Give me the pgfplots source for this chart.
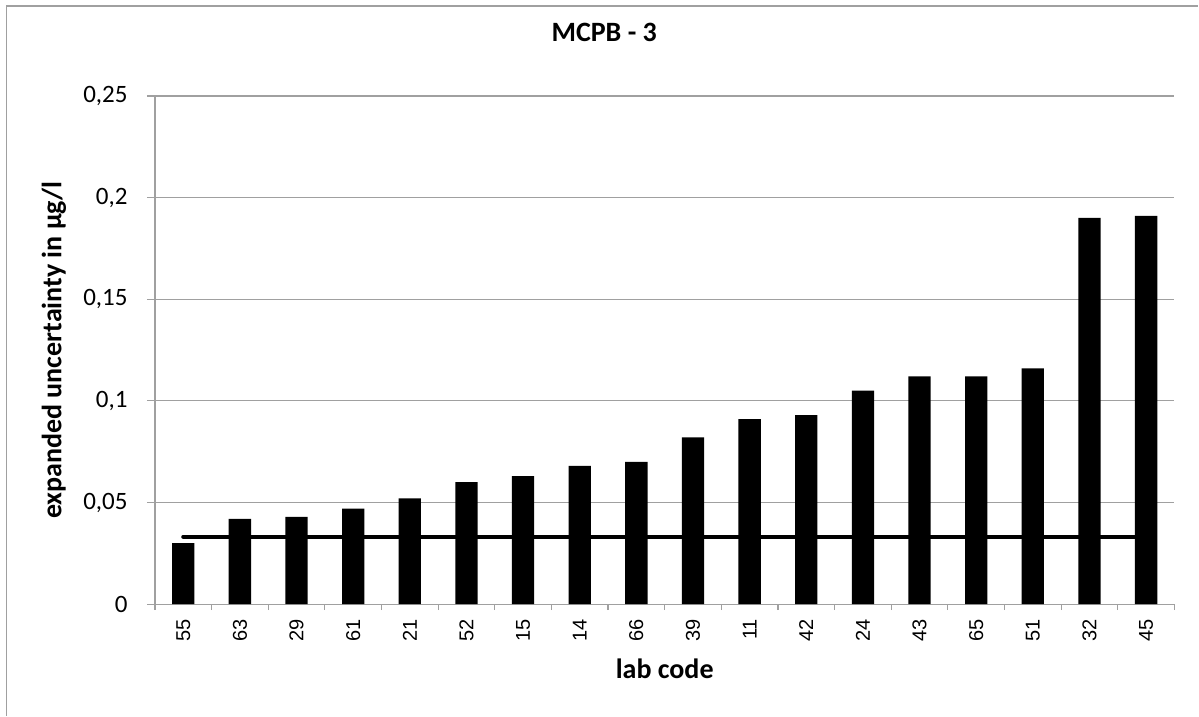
\documentclass[border=0pt]{standalone}
\usepackage{fontspec}
\setmainfont{Carlito}
\newfontfamily\arialf{Liberation Sans}
\usepackage{pgfplots}
\pgfplotsset{compat=1.18}
\definecolor{gridc}{RGB}{160,160,160}
\begin{document}
\begin{tikzpicture}
\path (0pt,0pt) rectangle (599.5pt,358pt);
\draw[gridc, line width=0.6pt] (3.25pt,0pt) -- (3.25pt,355pt) -- (599.5pt,355pt);
\begin{axis}[
  at={(77.5pt,55.75pt)}, anchor=south west,
  scale only axis, width=510pt, height=254.25pt,
  xmin=-0.5, xmax=17.5, ymin=0, ymax=0.25,
  ytick={0,0.05,0.1,0.15,0.2,0.25},
  yticklabels={0,{0,05},{0,1},{0,15},{0,2},{0,25}},
  xtick={0,...,17},
  xticklabels={55,63,29,61,21,52,15,14,66,39,11,42,24,43,65,51,32,45},
  minor xtick={-0.5,0.5,...,17.5},
  axis x line*=bottom, axis y line*=left,
  axis line style={gridc, line width=0.6pt},
  ymajorgrids, grid style={gridc, line width=0.6pt},
  tick align=outside,
  major tick length=4pt, minor tick length=3pt,
  major x tick style={draw=none},
  minor x tick style={gridc, line width=0.6pt},
  ytick style={gridc, line width=0.6pt},
  xticklabel style={font=\arialf\fontsize{10}{12}\selectfont, rotate=90, anchor=east, inner sep=0pt},
  xticklabel shift=3.25pt,
  yticklabel style={font=\fontsize{12.5}{14}\selectfont, anchor=east, inner sep=0pt},
  yticklabel shift=9.5pt,
  title={MCPB - 3},
  title style={font=\fontsize{14}{16}\selectfont\bfseries, at={(axis description cs:0.4407,1.1023)}, anchor=center},
  xlabel={lab code},
  xlabel style={font=\fontsize{14}{16}\selectfont\bfseries, at={(axis description cs:0.5,-0.1268)}, anchor=center},
  ylabel={expanded uncertainty in µg/l},
  ylabel style={font=\fontsize{14}{16}\selectfont\bfseries, at={(axis description cs:-0.099,0.5)}, anchor=center},
]
\addplot[black, line width=2pt, line cap=round, forget plot] coordinates {(0,0.0332) (17,0.0332)};
\addplot[ybar, bar width=0.394, fill=black, draw=none] coordinates {
(0,0.030) (1,0.042) (2,0.043) (3,0.047) (4,0.052) (5,0.060) (6,0.063) (7,0.068) (8,0.070)
(9,0.082) (10,0.091) (11,0.093) (12,0.105) (13,0.112) (14,0.112) (15,0.116) (16,0.190) (17,0.191)};
\end{axis}
\end{tikzpicture}
\end{document}
